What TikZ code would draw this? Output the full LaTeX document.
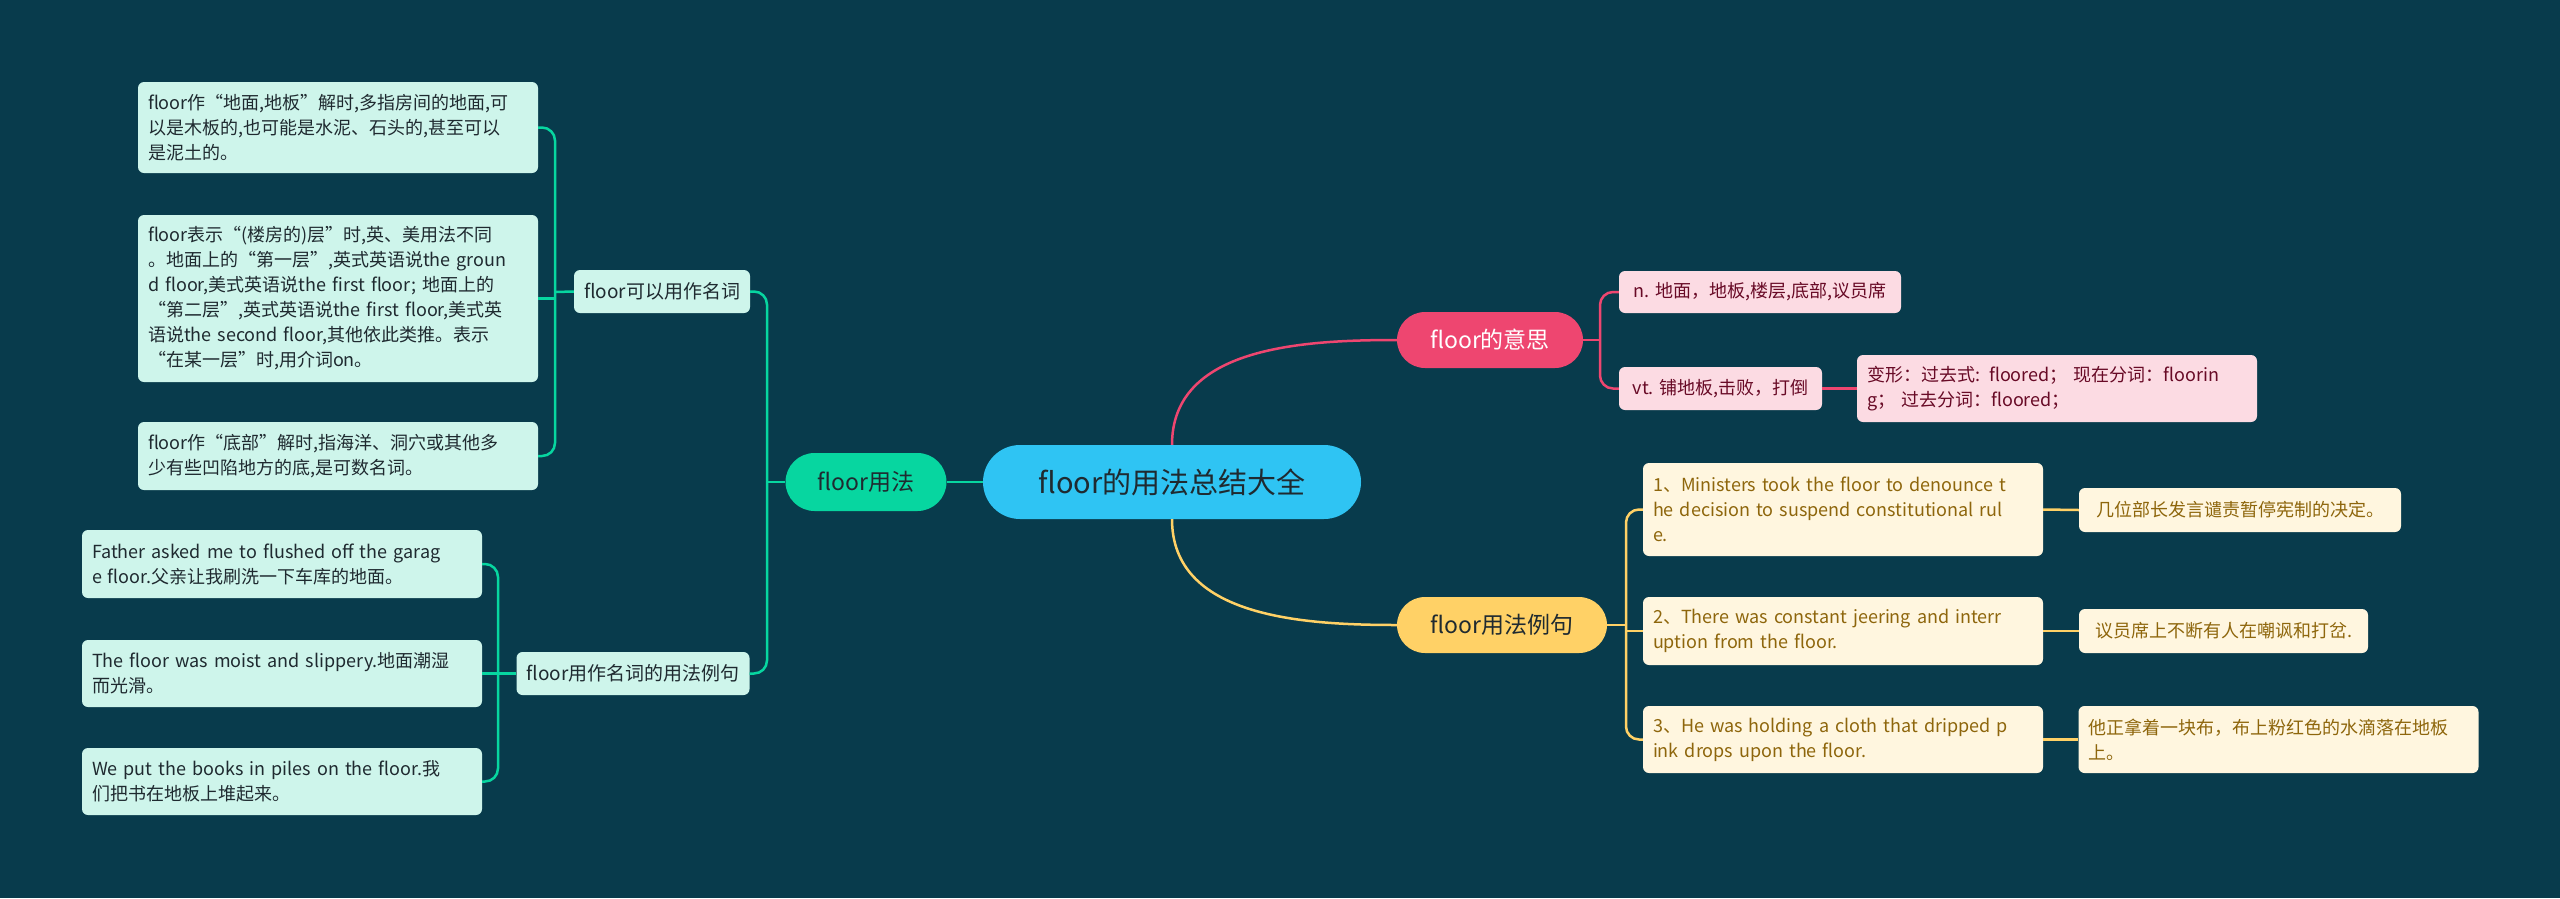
\documentclass[tikz,border=0pt]{standalone}
\usepackage{fontspec}
\setmainfont{Noto Sans CJK SC}
\usepackage{tikz}
\usetikzlibrary{positioning,calc}
\definecolor{fmBg}{HTML}{083B4C}
\definecolor{fmBlue}{HTML}{2FC4F3}
\definecolor{fmGreen}{HTML}{07D6A0}
\definecolor{fmLightGreen}{HTML}{CEF5EB}
\definecolor{fmPink}{HTML}{EE4670}
\definecolor{fmLightPink}{HTML}{FCDBE3}
\definecolor{fmYellow}{HTML}{FFD166}
\definecolor{fmLightYellow}{HTML}{FFF6DF}
\definecolor{fmInk}{HTML}{1F2A30}
\definecolor{fmPinkInk}{HTML}{680A26}
\definecolor{fmGold}{HTML}{8E660C}
\tikzset{
    fmRoot/.style={
        fill=fmBlue,
        text=fmInk,
        rounded corners=37pt,
        minimum width=378pt,
        minimum height=74pt,
        inner sep=0pt,
        font=\fontsize{29}{34}\selectfont
    },
    fmMain/.style={
        rounded corners=28pt,
        minimum height=56pt,
        inner sep=0pt,
        font=\fontsize{23}{28}\selectfont
    },
    fmLeaf/.style={
        rounded corners=6pt,
        inner xsep=10pt,
        inner ysep=4pt,
        font=\fontsize{18}{25}\selectfont
    },
    fmWide/.style={align=left,text width=380pt},
    fmGreenLeaf/.style={fmLeaf,fill=fmLightGreen,text=fmInk},
    fmSub/.style={fmGreenLeaf,minimum height=43pt,font=\fontsize{19}{24}\selectfont},
    fmPinkLeaf/.style={fmLeaf,fill=fmLightPink,text=fmPinkInk},
    fmGoldLeaf/.style={fmLeaf,fill=fmLightYellow,text=fmGold},
    fmGreenLine/.style={draw=fmGreen,line width=2.5pt,rounded corners=13pt},
    fmPinkLine/.style={draw=fmPink,line width=2.5pt,rounded corners=13pt},
    fmGoldLine/.style={draw=fmYellow,line width=2.5pt,rounded corners=13pt}
}
\begin{document}
\begin{tikzpicture}[x=1pt,y=-1pt]
    \fill[fmBg] (0,0) rectangle (2560,898);
    \useasboundingbox (0,0) rectangle (2560,898);

    % centre and first level
    \node[fmRoot] (root) at (1172,482) {floor的用法总结大全};
    \node[fmMain,fill=fmGreen,text=fmInk,minimum width=161pt,minimum height=58pt,rounded corners=29pt]
        (yongfa) at (866,482) {floor用法};
    \node[fmMain,fill=fmPink,text=white,minimum width=186pt] (yisi) at (1490,340) {floor的意思};
    \node[fmMain,fill=fmYellow,text=fmInk,minimum width=210pt] (liju) at (1502,625) {floor用法例句};

    % left side
    \node[fmSub,minimum width=176pt] (kyyz) at (662,291.5) {floor可以用作名词};
    \node[fmSub,minimum width=233pt] (mcly) at (633,673.5) {floor用作名词的用法例句};

    \node[fmGreenLeaf,fmWide,minimum height=91pt] (gA1) at (338,127.5)
        {floor作“地面,地板”解时,多指房间的地面,可\\以是木板的,也可能是水泥、石头的,甚至可以\\是泥土的。};
    \node[fmGreenLeaf,fmWide,minimum height=167pt] (gA2) at (338,298.5)
        {floor表示“(楼房的)层”时,英、美用法不同\\。地面上的“第一层”,英式英语说the groun\\d floor,美式英语说the first floor; 地面上的\\“第二层”,英式英语说the first floor,美式英\\语说the second floor,其他依此类推。表示\\“在某一层”时,用介词on。};
    \node[fmGreenLeaf,fmWide,minimum height=68pt] (gA3) at (338,456)
        {floor作“底部”解时,指海洋、洞穴或其他多\\少有些凹陷地方的底,是可数名词。};

    \node[fmGreenLeaf,fmWide,minimum height=68pt] (gB1) at (282,564)
        {Father asked me to flushed off the garag\\e floor.父亲让我刷洗一下车库的地面。};
    \node[fmGreenLeaf,fmWide,minimum height=67pt] (gB2) at (282,673.5)
        {The floor was moist and slippery.地面潮湿\\而光滑。};
    \node[fmGreenLeaf,fmWide,minimum height=67pt] (gB3) at (282,781.5)
        {We put the books in piles on the floor.我\\们把书在地板上堆起来。};

    % right side
    \node[fmPinkLeaf,minimum width=282pt,minimum height=42pt] (nMean) at (1760,292)
        {n. 地面，地板,楼层,底部,议员席};
    \node[fmPinkLeaf,minimum width=203pt,minimum height=43pt] (vtMean) at (1720.5,388.5)
        {vt. 铺地板,击败，打倒};
    \node[fmPinkLeaf,fmWide,minimum height=67pt] (forms) at (2057,388.5)
        {变形：过去式: floored；\ 现在分词：floorin\\g；\ 过去分词：floored；};

    \node[fmGoldLeaf,fmWide,minimum height=93pt] (ex1) at (1843,509.5)
        {1、Ministers took the floor to denounce t\\he decision to suspend constitutional rul\\e.};
    \node[fmGoldLeaf,fmWide,minimum height=68pt] (ex2) at (1843,631)
        {2、There was constant jeering and interr\\uption from the floor.};
    \node[fmGoldLeaf,fmWide,minimum height=67pt] (ex3) at (1843,739.5)
        {3、He was holding a cloth that dripped p\\ink drops upon the floor.};
    \node[fmGoldLeaf,minimum width=322pt,minimum height=44pt] (tr1) at (2240,510)
        {几位部长发言谴责暂停宪制的决定。};
    \node[fmGoldLeaf,minimum width=289pt,minimum height=44pt] (tr2) at (2223.5,631)
        {议员席上不断有人在嘲讽和打岔.};
    \node[fmGoldLeaf,fmWide,minimum height=67pt] (tr3) at (2278.5,739.5)
        {他正拿着一块布，布上粉红色的水滴落在地板\\上。};

    % junctions
    \coordinate (jUse) at (767,482);
    \coordinate (jNoun) at (555,292);
    \coordinate (jSent) at (498,673.5);
    \coordinate (jMean) at (1600,340);
    \coordinate (jEx) at (1626,625);

    % connectors
    \draw[fmGreenLine] (root.west) -- (yongfa.east);
    \draw[fmPinkLine] (root.north) to[out=90,in=180] (yisi.west);
    \draw[fmGoldLine] (root.south) to[out=-90,in=180] (liju.west);

    \draw[fmGreenLine] (yongfa.west) -- (jUse);
    \draw[fmGreenLine] (kyyz.east) -| (jUse) |- (mcly.east);
    \draw[fmGreenLine] (kyyz.west) -- (jNoun);
    \draw[fmGreenLine] (gA1.east) -| (jNoun) |- (gA3.east);
    \draw[fmGreenLine] (gA2.east) -- (gA2.east -| jNoun);
    \draw[fmGreenLine] (mcly.west) -- (jSent);
    \draw[fmGreenLine] (gB1.east) -| (jSent) |- (gB3.east);
    \draw[fmGreenLine] (gB2.east) -- (jSent);

    \draw[fmPinkLine] (yisi.east) -- (jMean);
    \draw[fmPinkLine] (nMean.west) -| (jMean) |- (vtMean.west);
    \draw[fmPinkLine] (vtMean.east) -- (forms.west);

    \draw[fmGoldLine] (liju.east) -- (jEx);
    \draw[fmGoldLine] (ex1.west) -| (jEx) |- (ex3.west);
    \draw[fmGoldLine] (ex2.west) -- (ex2.west -| jEx);
    \draw[fmGoldLine] (ex1.east) -- (tr1.west);
    \draw[fmGoldLine] (ex2.east) -- (tr2.west);
    \draw[fmGoldLine] (ex3.east) -- (tr3.west);
\end{tikzpicture}
\end{document}
